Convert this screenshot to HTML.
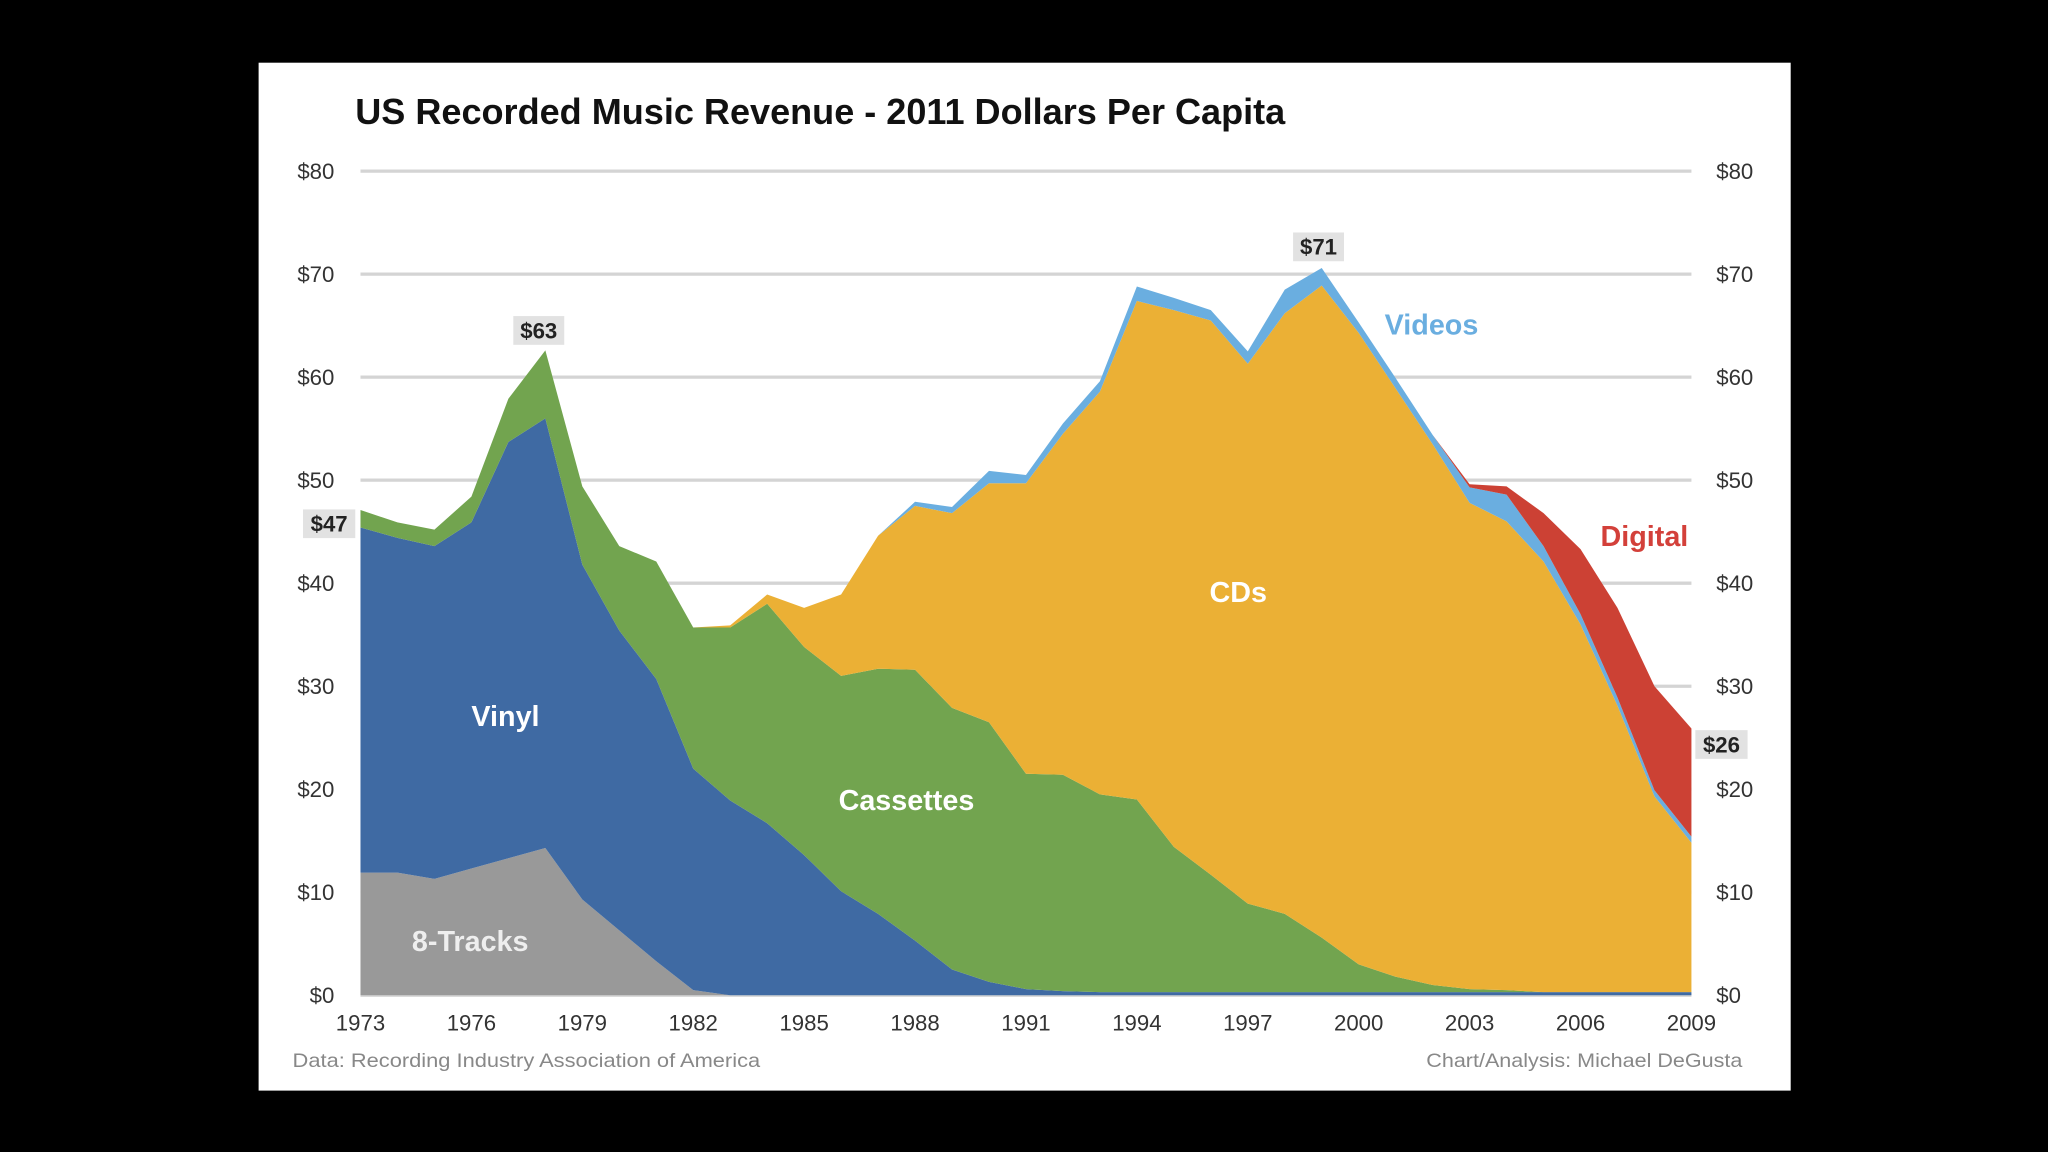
<!DOCTYPE html>
<html><head><meta charset="utf-8"><style>
html,body{margin:0;padding:0;background:#000;width:2048px;height:1152px;overflow:hidden}
svg{display:block}
text{font-family:"Liberation Sans",sans-serif}
</style></head><body>
<svg id="chart" width="2048" height="1152" viewBox="0 0 1568 882" xmlns="http://www.w3.org/2000/svg">
<rect x="0" y="0" width="1568" height="882" fill="#000"/>
<rect x="198" y="48" width="1173" height="787" fill="#fff"/>
<text x="272" y="95" font-size="28" font-weight="bold" fill="#111" textLength="712" lengthAdjust="spacingAndGlyphs">US Recorded Music Revenue - 2011 Dollars Per Capita</text>
<g id="grid"></g>
<g id="areas"></g>
<g id="axes"></g>
<g id="labels"></g>
<text x="224" y="817" font-size="15" fill="#888" textLength="358" lengthAdjust="spacingAndGlyphs">Data: Recording Industry Association of America</text>
<text x="1092" y="817" font-size="15" fill="#888" textLength="242" lengthAdjust="spacingAndGlyphs">Chart/Analysis: Michael DeGusta</text>
</svg>
<script>
const years = [1973,1974,1975,1976,1977,1978,1979,1980,1981,1982,1983,1984,1985,1986,1987,1988,1989,1990,1991,1992,1993,1994,1995,1996,1997,1998,1999,2000,2001,2002,2003,2004,2005,2006,2007,2008,2009];
const eightTracks = [11.9,11.9,11.3,12.3,13.3,14.3,9.3,6.3,3.3,0.5,0,0,0,0,0,0,0,0,0,0,0,0,0,0,0,0,0,0,0,0,0,0,0,0,0,0,0];
const vinyl = [33.5,32.5,32.3,33.6,40.4,41.7,32.5,29.1,27.4,21.5,18.9,16.7,13.6,10.1,7.9,5.3,2.5,1.3,0.6,0.4,0.3,0.3,0.3,0.3,0.3,0.3,0.3,0.3,0.3,0.3,0.3,0.3,0.3,0.3,0.3,0.3,0.3];
const cassettes = [1.7,1.5,1.6,2.5,4.2,6.6,7.6,8.2,11.4,13.7,16.8,21.3,20.2,20.9,23.8,26.3,25.4,25.2,20.9,21.0,19.2,18.7,14.1,11.4,8.6,7.6,5.3,2.7,1.5,0.7,0.3,0.2,0,0,0,0,0];
const cds = [0,0,0,0,0,0,0,0,0,0,0.2,0.9,3.8,7.9,12.9,15.9,18.9,23.2,28.2,33.1,39.1,48.4,52.1,53.8,52.4,58.3,63.3,61.3,57.1,52.5,47.2,45.5,41.8,35.7,27.8,19.0,14.5];
const videos = [0,0,0,0,0,0,0,0,0,0,0,0,0,0,0,0.4,0.6,1.2,0.8,1.0,1.0,1.4,1.2,1.0,1.2,2.3,1.7,1.0,1.0,0.9,1.5,2.6,1.5,1.0,0.8,0.6,0.6];
const digital = [0,0,0,0,0,0,0,0,0,0,0,0,0,0,0,0,0,0,0,0,0,0,0,0,0,0,0,0,0,0,0.3,0.8,3.2,6.3,8.7,10.1,10.5];
const yTicks = [0,10,20,30,40,50,60,70,80];
const xTickYears = [1973,1976,1979,1982,1985,1988,1991,1994,1997,2000,2003,2006,2009];
const seriesNames = ['8-tracks','vinyl','cassettes','cds','videos','digital'];

const NS='http://www.w3.org/2000/svg';
const X0=276,X1=1295,Y0=762,Y80=131;
const xs=y=>X0+(y-1973)*(X1-X0)/36;
const ys=v=>Y0-v*(Y0-Y80)/80;
function mk(tag,attrs,parent,txt){const e=document.createElementNS(NS,tag);for(const k in attrs)e.setAttribute(k,attrs[k]);if(txt!==undefined)e.textContent=txt;parent.appendChild(e);return e;}
const grid=document.getElementById('grid'),areas=document.getElementById('areas'),axes=document.getElementById('axes'),labels=document.getElementById('labels');

yTicks.forEach(t=>{
  const l=mk('line',{x1:X0,x2:X1,y1:ys(t),y2:ys(t),stroke:'#d4d4d4','stroke-width':2.5},grid);
  
  
  const a=mk('text',{x:256,y:ys(t)+6,'font-size':17,fill:'#333','text-anchor':'end'},axes,'$'+t);
  
  
  const b=mk('text',{x:1314,y:ys(t)+6,'font-size':17,fill:'#333'},axes,'$'+t);
  
  
});
xTickYears.forEach(y=>{
  const t=mk('text',{x:xs(y),y:789,'font-size':17,fill:'#333','text-anchor':'middle'},axes,String(y));
  
  
});

const series=[eightTracks,vinyl,cassettes,cds,videos,digital];
const colors=['#999999','#3f6aa3','#72a44f','#ebb035','#6aaee0','#cc4134'];
let base=years.map(()=>0);
series.forEach((s,i)=>{
  const top=base.map((b,j)=>b+s[j]);
  let d='';
  years.forEach((y,j)=>{d+=(j?'L':'M')+xs(y)+','+ys(top[j]);});
  for(let j=years.length-1;j>=0;j--)d+='L'+xs(years[j])+','+ys(base[j]);
  d+='Z';
  const p=mk('path',{d:d,fill:colors[i],stroke:'none'},areas);
  
  
  base=top;
});

function box(x,y,w,txt,name){
  const r=mk('rect',{x:x,y:y,width:w,height:22,fill:'#e2e2e2'},labels);
  
  
  const t=mk('text',{x:x+w/2,y:y+17,'font-size':17,'font-weight':'bold',fill:'#222','text-anchor':'middle'},labels,txt);
  
  
}
box(232,390,40,'$47','callout-1973');
box(393,242,39,'$63','callout-1978');
box(990,178,39,'$71','callout-1999');
box(1298,559,40,'$26','callout-2009');

function lab(x,y,txt,col,name){
  const t=mk('text',{x:x,y:y,'font-size':22,'font-weight':'bold',fill:col,'text-anchor':'middle'},labels,txt);
  
  
}
lab(387,556,'Vinyl','#fff','label-vinyl');
lab(360,728,'8-Tracks','#eee','label-8-tracks');
lab(694,620,'Cassettes','#fff','label-cassettes');
lab(948,461,'CDs','#fff','label-cds');
lab(1096,256,'Videos','#6aaee0','label-videos');
lab(1259,418,'Digital','#d3403a','label-digital');
</script>
</body></html>
